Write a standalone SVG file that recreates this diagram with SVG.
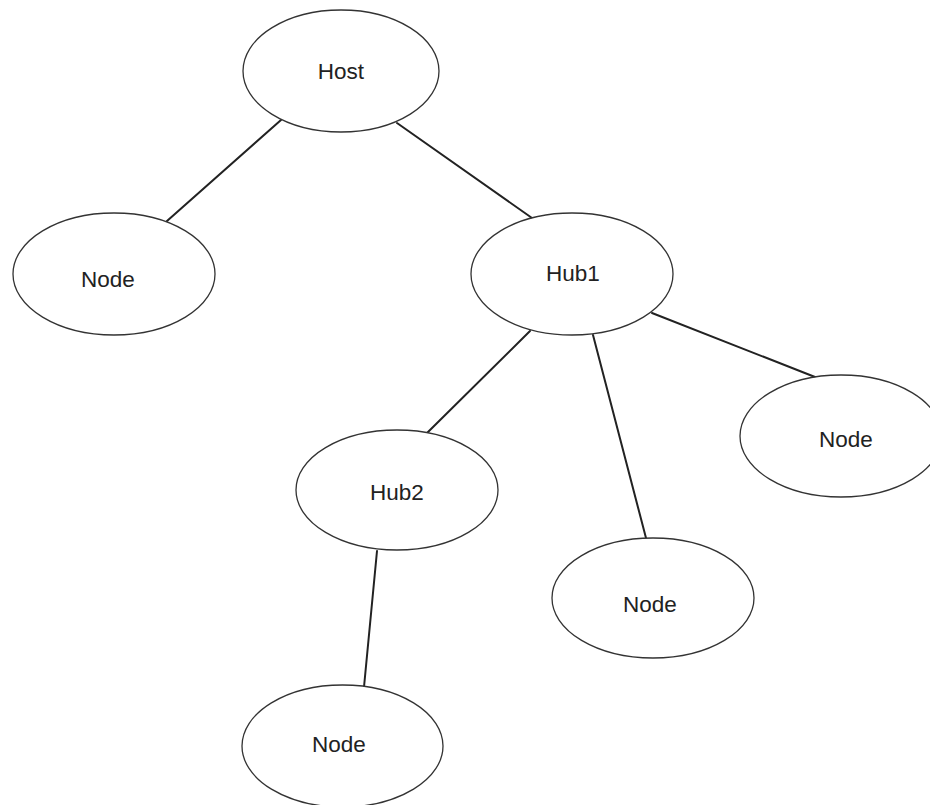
<svg xmlns="http://www.w3.org/2000/svg" width="930" height="805" viewBox="0 0 930 805">
<style>
.n ellipse{fill:#fff;stroke:#333;stroke-width:1.3}
.n text{font-family:"Liberation Sans",Arial,sans-serif;font-size:22.5px;fill:#222;text-anchor:middle}
.c line{stroke:#222;stroke-width:2;stroke-linecap:round}
</style>
<rect width="930" height="805" fill="#fff"/>
<g id="connectors" class="c">
<line x1="281" y1="120" x2="167" y2="221"/>
<line x1="397" y1="123" x2="532" y2="218"/>
<line x1="530" y1="331" x2="427" y2="433"/>
<line x1="593" y1="335" x2="646" y2="538"/>
<line x1="652" y1="313" x2="815" y2="377"/>
<line x1="377" y1="551" x2="364" y2="687"/>
</g>
<g id="host" class="n"><ellipse cx="341" cy="71" rx="98" ry="61"/><text x="341" y="79">Host</text></g>
<g id="node-left" class="n"><ellipse cx="114" cy="274" rx="101" ry="61"/><text x="108" y="287">Node</text></g>
<g id="hub1" class="n"><ellipse cx="572" cy="274" rx="101" ry="61"/><text x="573" y="281">Hub1</text></g>
<g id="node-right" class="n"><ellipse cx="841" cy="436" rx="101" ry="61"/><text x="846" y="447">Node</text></g>
<g id="hub2" class="n"><ellipse cx="397" cy="490" rx="101" ry="60"/><text x="397" y="500">Hub2</text></g>
<g id="node-middle" class="n"><ellipse cx="653" cy="598" rx="101" ry="60"/><text x="650" y="612">Node</text></g>
<g id="node-bottom" class="n"><ellipse cx="342.5" cy="746" rx="100.5" ry="61"/><text x="339" y="752">Node</text></g>
</svg>
